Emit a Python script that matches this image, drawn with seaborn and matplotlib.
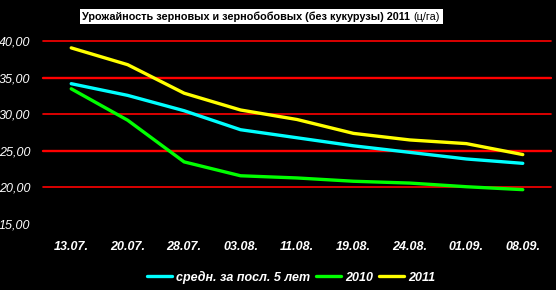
import matplotlib
matplotlib.use("Agg")
import matplotlib.pyplot as plt
import matplotlib.patches as mpatches
import seaborn as sns
import pandas as pd

dates = ["13.07.", "20.07.", "28.07.", "03.08.", "11.08.", "19.08.", "24.08.", "01.09.", "08.09."]
avg5 = [34.2, 32.6, 30.5, 27.9, 26.8, 25.7, 24.8, 23.9, 23.3]
y2010 = [33.5, 29.2, 23.5, 21.6, 21.3, 20.85, 20.6, 20.1, 19.7]
y2011 = [39.1, 36.8, 32.9, 30.6, 29.3, 27.4, 26.5, 26.0, 24.5]
series_names = ["средн. за посл. 5 лет", "2010", "2011"]
colors = ["#00FFFF", "#00FF00", "#FFFF00"]
yticks = [15, 20, 25, 30, 35, 40]
title_bold = "Урожайность зерновых и зернобобовых (без кукурузы) 2011 "
title_unit = "(ц/га)"

rows = []
for name, vals in zip(series_names, [avg5, y2010, y2011]):
    for i, (d, v) in enumerate(zip(dates, vals)):
        rows.append({"idx": i, "date": d, "value": v, "series": name})
df = pd.DataFrame(rows)

sns.set_style("dark")
plt.rcParams['font.family'] = ['Liberation Sans', 'DejaVu Sans']

W, H = 556, 290
fig = plt.figure(figsize=(W/100, H/100), dpi=100, facecolor="black")
ax = fig.add_axes([43/W, 1 - 224/H, 508/W, (224 - 41.3)/H])
ax.set_facecolor("black")

for yv in [20, 25, 30, 35, 40]:
    ax.axhline(yv, color="#FF0000", lw=1.7 if yv in (25, 35) else 1.2, zorder=1, clip_on=False)

sns.lineplot(data=df, x="idx", y="value", hue="series", hue_order=series_names,
             palette=dict(zip(series_names, colors)), lw=2.4, ax=ax, zorder=3,
             legend=True)

ax.set_xlim(-0.5, len(dates) - 0.5)
ax.set_ylim(15, 40)
ax.set_xticks(range(len(dates)))
ax.set_xticklabels(dates, fontsize=9, fontweight="bold", fontstyle="italic", color="white")
ax.set_yticks(yticks)
ax.set_yticklabels([f"{v},00" for v in yticks], fontsize=9, fontstyle="italic", color="white")
ax.tick_params(axis="both", length=0)
ax.tick_params(axis="x", pad=12)
ax.tick_params(axis="y", pad=9)
ax.grid(False)
for s in ax.spines.values():
    s.set_visible(False)
ax.set_xlabel("")
ax.set_ylabel("")

leg = ax.legend(loc="center", bbox_to_anchor=(291/W, 1 - 277/H), bbox_transform=fig.transFigure,
                ncol=3, frameon=False, handlelength=2.0, handletextpad=0.3, columnspacing=0.5,
                prop={"weight": "bold", "style": "italic", "size": 9})
for t in leg.get_texts():
    t.set_color("white")
for l in leg.get_lines():
    l.set_linewidth(2.4)

# title
t1 = fig.text(82/W, 1 - 16.5/H, title_bold, ha="left", va="center", fontsize=7.8,
              fontweight="bold", color="black", zorder=2)
fig.canvas.draw()
bb = t1.get_window_extent()
t2 = fig.text(bb.x1 / W, 1 - 16.5/H, title_unit, ha="left", va="center", fontsize=7.8,
              color="black", zorder=2)
fig.canvas.draw()
bb2 = t2.get_window_extent()
right = max(443, bb2.x1 + 2)
fig.patches.append(mpatches.Rectangle((80/W, 1 - 24/H), (right - 80)/W, 15/H,
                                      transform=fig.transFigure, facecolor="white",
                                      edgecolor="none", zorder=0))

fig.savefig("out.png", dpi=100, facecolor="black")
